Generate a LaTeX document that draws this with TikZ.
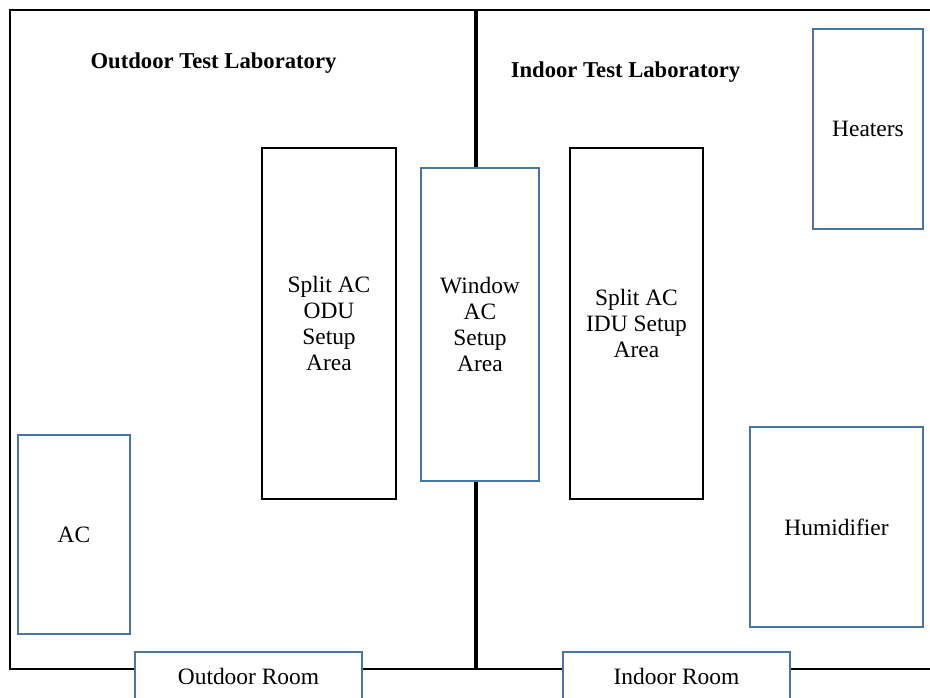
\documentclass[tikz,border=0pt]{standalone}
\usepackage{fontspec}
\setmainfont{Liberation Serif}
\usepackage{xcolor}
\usepackage{tikz}
\usetikzlibrary{positioning}
\definecolor{wallcol}{RGB}{0,0,0}
\definecolor{blueedge}{RGB}{74,118,164}
\tikzset{
    area/.style={rectangle, draw=wallcol, line width=0.8pt, fill=white, align=center, font=\fontsize{12}{13.3}\selectfont},
    unit/.style={rectangle, draw=blueedge, line width=1pt, fill=white, align=center, font=\fontsize{12}{13.3}\selectfont},
    title/.style={font=\bfseries\fontsize{11.6}{14}\selectfont},
    wall/.style={draw=wallcol, line width=1.1pt},
    divider/.style={draw=wallcol, line width=1.7pt}
}

\begin{document}
\begin{tikzpicture}[x=0.512pt, y=-0.512pt]
    \clip (0,0) rectangle (930,697);
    \fill[white] (0,0) rectangle (930,697);

    % Walls
    \draw [wall] (940,10) -- (10,10) -- (10,669) -- (940,669);
    \draw [divider] (476,10) -- (476,669);

    % Lab titles
    \node (outlab) [title] at (213.5,63) {Outdoor Test Laboratory};
    \node (inlab) [title] at (625.5,72) {Indoor Test Laboratory};

    % Setup areas
    \node (odu) [area, minimum width=68.6pt, minimum height=179.7pt] at (329,323.5) {Split AC\\ODU\\Setup\\Area};
    \node (window) [unit, minimum width=60.4pt, minimum height=160.3pt] at (480,324.5) {Window\\AC\\Setup\\Area};
    \node (idu) [area, minimum width=68.1pt, minimum height=179.7pt] at (636.5,323.5) {Split AC\\IDU Setup\\Area};

    % Equipment
    \node (heaters) [unit, minimum width=56.3pt, minimum height=102.4pt] at (868,129) {Heaters};
    \node (humid) [unit, minimum width=88.6pt, minimum height=102.4pt] at (836.5,527) {Humidifier};
    \node (ac) [unit, minimum width=57.3pt, minimum height=101.9pt] at (74,534.5) {AC};

    % Rooms
    \node (outroom) [unit, minimum width=116.2pt, minimum height=24.6pt] at (248.5,676) {Outdoor Room};
    \node (inroom) [unit, minimum width=116.2pt, minimum height=24.6pt] at (676.5,676) {Indoor Room};
\end{tikzpicture}
\end{document}
